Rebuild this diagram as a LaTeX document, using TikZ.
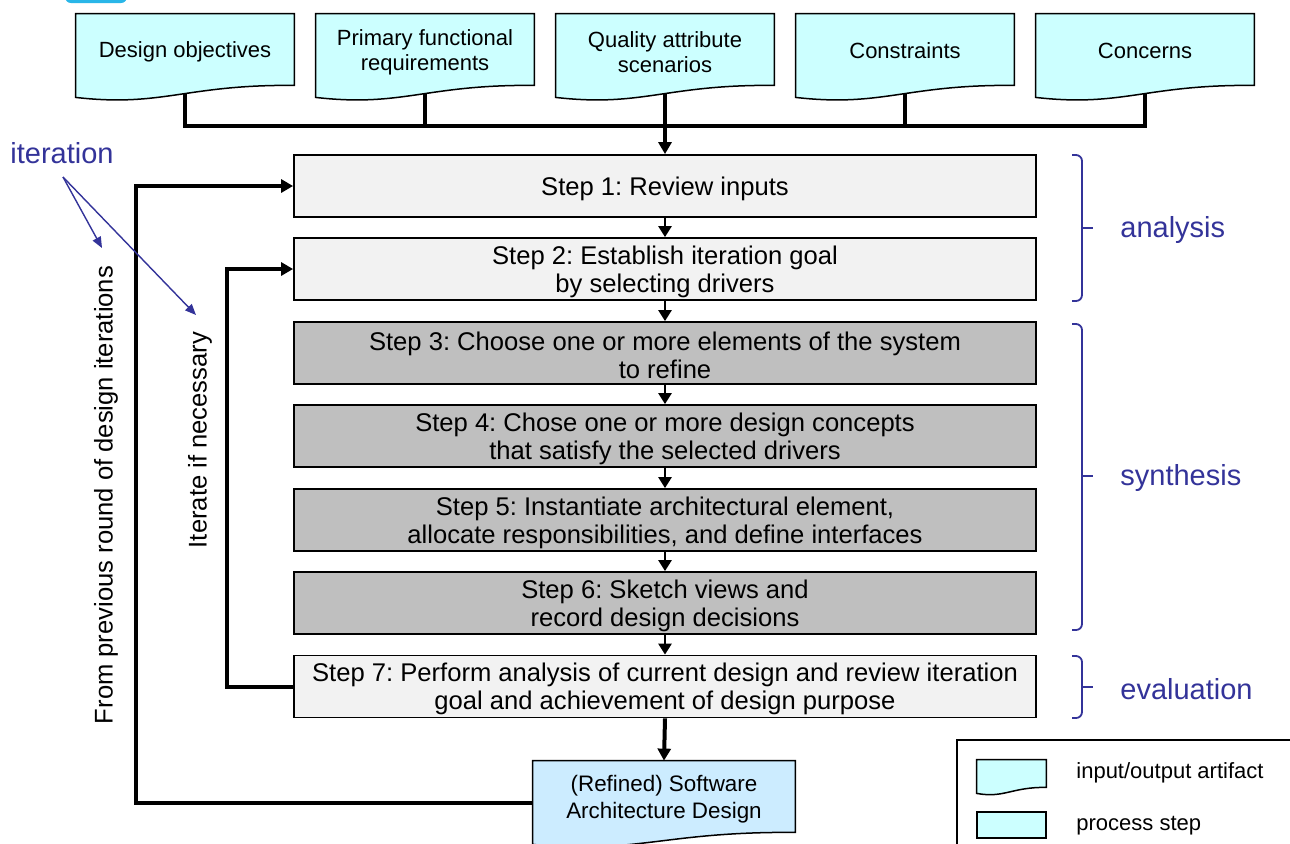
\documentclass[tikz,border=0pt]{standalone}
\usepackage{fontspec}
\setmainfont{Liberation Sans}
\frenchspacing
\usetikzlibrary{arrows.meta,calc,backgrounds}
\definecolor{docA}{HTML}{CCFFFF}
\definecolor{docB}{HTML}{CCECFF}
\definecolor{stepL}{HTML}{F2F2F2}
\definecolor{stepD}{HTML}{BFBFBF}
\definecolor{lblue}{HTML}{333399}
\definecolor{topblue}{HTML}{29B6E8}
\newcommand\docshape[3]{%
 \begin{pgfonlayer}{background}
 \draw[line width=0.75pt, fill=#1] (#2.north west) -- (#2.north east) -- (#2.south east)
   .. controls ($(#2.south west)!0.5!(#2.south east)+(0,-#3/12)$) and ($(#2.south west)!0.4!(#2.south east)+(0,#3*22/12)$) .. ($(#2.south west)+(0,#3)$) -- cycle;
 \end{pgfonlayer}}
\newcommand\sidebrace[3]{%
 \draw[bracestyle, rounded corners=3pt] (1072,#1) -- (1082,#1) -- (1082,#2) -- (1072,#2);
 \draw[bracestyle] (1082,#3) -- (1093,#3);}
\tikzset{
 docnode/.style={minimum width=109pt, minimum height=35.5pt, inner sep=0pt},
 doctext/.style={inner sep=0pt, align=center, font=\fontsize{11}{12.5}\selectfont},
 stepbox/.style={draw, line width=0.9pt, minimum width=371pt, minimum height=31pt, inner sep=0pt},
 steptext/.style={inner sep=0pt, align=center, font=\fontsize{12.8}{14}\selectfont},
 lightstep/.style={stepbox, fill=stepL},
 darkstep/.style={stepbox, fill=stepD},
 bar/.style={line width=2pt},
 bararrow/.style={line width=2pt, -{Triangle[length=6pt,width=6.5pt]}},
 steparrow/.style={line width=1.3pt, -{Triangle[length=5.5pt,width=6.5pt]}},
 bluearrow/.style={draw=lblue, line width=0.7pt, -{Triangle[length=5.5pt,width=4.5pt]}},
 bracestyle/.style={draw=lblue, line width=0.9pt},
 bluelabel/.style={text=lblue, anchor=west, inner sep=0pt, font=\fontsize{14.5}{16}\selectfont},
 rotlabel/.style={rotate=90, inner sep=0pt, font=\fontsize{12.8}{14}\selectfont},
 legtext/.style={anchor=west, inner sep=0pt, font=\fontsize{11}{12.5}\selectfont},
}
\begin{document}
\begin{tikzpicture}[x=0.5pt, y=-0.5pt]
\useasboundingbox (0,0) rectangle (1290,843);
\clip (0,0) rectangle (1290,843);
% top-left cut-off blue tab
\fill[topblue, rounded corners=3pt] (65,-12) rectangle (127,3);

% input documents
\node[docnode] (d1) at (185,49.5) {};
\node[docnode] (d2) at (425,49.5) {};
\node[docnode] (d3) at (665,49.5) {};
\node[docnode] (d4) at (905,49.5) {};
\node[docnode] (d5) at (1145,49.5) {};
\docshape{docA}{d1}{12}
\docshape{docA}{d2}{12}
\docshape{docA}{d3}{12}
\docshape{docA}{d4}{12}
\docshape{docA}{d5}{12}
\node[doctext] (d1-t) at ($(d1)+(0,2.5)$) {Design objectives};
\node[doctext] (d2-t) at ($(d2)+(0,2.5)$) {Primary functional\\requirements};
\node[doctext] (d3-t) at ($(d3)+(0,2.5)$) {Quality attribute\\scenarios};
\node[doctext] (d4-t) at ($(d4)+(0,1)$) {Constraints};
\node[doctext] (d5-t) at ($(d5)+(0,1)$) {Concerns};

% steps
\node[lightstep] (s1) at (665,186) {};
\node[lightstep] (s2) at (665,269) {};
\node[darkstep] (s3) at (665,353) {};
\node[darkstep] (s4) at (665,436) {};
\node[darkstep] (s5) at (665,520) {};
\node[darkstep] (s6) at (665,603) {};
\node[lightstep] (s7) at (665,686.5) {};
\node[steptext] (s1-t) at ($(s1)+(0,2.5)$) {Step 1: Review inputs};
\node[steptext] (s2-t) at ($(s2)+(0,2.5)$) {Step 2: Establish iteration goal\\by selecting drivers};
\node[steptext] (s3-t) at ($(s3)+(0,2.5)$) {Step 3: Choose one or more elements of the system\\to refine};
\node[steptext] (s4-t) at ($(s4)+(0,2.5)$) {Step 4: Chose one or more design concepts\\that satisfy the selected drivers};
\node[steptext] (s5-t) at ($(s5)+(0,2.5)$) {Step 5: Instantiate architectural element,\\allocate responsibilities, and define interfaces};
\node[steptext] (s6-t) at ($(s6)+(0,2.5)$) {Step 6: Sketch views and\\record design decisions};
\node[steptext] (s7-t) at ($(s7)+(0,2.5)$) {Step 7: Perform analysis of current design and review iteration\\goal and achievement of design purpose};

% output document
\node[docnode, minimum width=131pt] (out) at (664,796.5) {};
\docshape{docB}{out}{12}
\node[doctext, font=\fontsize{11.2}{13.5}\selectfont] (out-t) at ($(out)+(0,3)$) {(Refined) Software\\Architecture Design};

% input bar
\draw[bar] ($(d1.south)+(0,8)$) -- (d1.south |- 0,126) -- (d5.south |- 0,126) -- ($(d5.south)+(0,8)$);
\draw[bar] ($(d2.south)+(0,8)$) -- (d2.south |- 0,126);
\draw[bar] ($(d4.south)+(0,8)$) -- (d4.south |- 0,126);
\draw[bararrow] ($(d3.south)+(0,8)$) -- (s1.north);

% step arrows
\draw[steparrow] (s1.south) -- (s2.north);
\draw[steparrow] (s2.south) -- (s3.north);
\draw[steparrow] (s3.south) -- (s4.north);
\draw[steparrow] (s4.south) -- (s5.north);
\draw[steparrow] (s5.south) -- (s6.north);
\draw[steparrow] (s6.south) -- (s7.north);
\draw[bararrow] (s7.south) -- (out.north);

% feedback loops
\draw[bararrow, line join=miter] ($(out.west)+(0,6.5)$) -- ++(-397,0) |- (s1.west);
\draw[bararrow, line join=miter] (s7.west) -- ++(-66,0) |- (s2.west);

% rotated labels
\node[rotlabel] (fromprev) at (106,495) {From previous round of design iterations};
\node[rotlabel] (iterate) at (200,440) {Iterate if necessary};

% iteration annotation
\node[bluelabel] (iterlbl) at (10,153) {iteration};
\coordinate (itsrc) at (63,177);
\coordinate (itA) at (102,248);
\coordinate (itB) at (196,315);
\draw[bluearrow] (itsrc) -- (itA);
\draw[bluearrow] (itsrc) -- (itB);

% braces and phase labels
\sidebrace{155}{301}{228}
\sidebrace{324}{630}{476}
\sidebrace{656}{718}{687}
\node[bluelabel] (analysis) at (1120,230) {analysis};
\node[bluelabel] (synthesis) at (1120,478) {synthesis};
\node[bluelabel] (evaluation) at (1120,689) {evaluation};

% legend
\draw[line width=0.75pt] (957,870) -- (957,740) -- (1310,740);
\node[minimum width=34.5pt, minimum height=13.5pt, inner sep=0pt] (legdoc) at (1011.5,773.5) {};
\docshape{docA}{legdoc}{6}
\node[draw, line width=0.75pt, fill=docA, minimum width=34.5pt, minimum height=13pt, inner sep=0pt] (legstep) at (1011.5,825) {};
\node[legtext] (legdoctxt) at (1076,773) {input/output artifact};
\node[legtext] (legsteptxt) at (1076,826) {process step};
\end{tikzpicture}
\end{document}
